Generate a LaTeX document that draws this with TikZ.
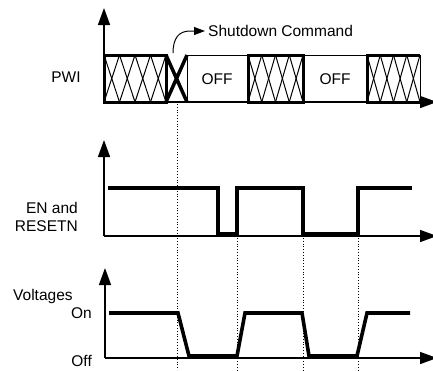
\documentclass[tikz,border=0pt]{standalone}
\usepackage{fontspec}
\setmainfont{Liberation Sans}
\usetikzlibrary{arrows.meta,positioning}
\tikzset{
    axisline/.style={
        line width=1.5pt,
        black,
        -{Triangle[length=17pt, width=12pt]}
    },
    % thick signal traces
    signalline/.style={
        line width=3.6pt,
        black,
        line join=miter
    },
    guideline/.style={
        line width=0.8pt,
        black,
        dotted
    },
    hatchbox/.style={
        line width=3pt,
        black
    },
    cmdarrow/.style={
        line width=1pt,
        black,
        -{Triangle[length=11pt, width=8pt]}
    },
    lbl/.style={
        font=\fontsize{15.5}{18.5}\selectfont,
        inner sep=0pt
    }
}
% hatched block: left x, right x, number of crosses
\newcommand{\hatchcells}[3]{%
    \pgfmathsetmacro{\cellw}{(#2-#1)/#3}
    \foreach \k in {1,...,#3}{
        \draw[line width=1pt] ({#1+(\k-1)*\cellw},55) -- ({#1+\k*\cellw},102);
        \draw[line width=1pt] ({#1+\k*\cellw},55) -- ({#1+(\k-1)*\cellw},102);
    }
}

\begin{document}
\begin{tikzpicture}[x=1pt,y=-1pt]
\useasboundingbox (0,0) rectangle (433,370);

% ===================== PWI =====================
\path
    (104,102) coordinate (o1)
    (104,8) coordinate (y1)
    (437,102) coordinate (x1)
    ;
\draw[axisline] (o1) -- (y1);
\draw[axisline] (o1) -- (x1);

\draw[line width=1pt] (187,55) -- (248,55) (303,55) -- (367,55);
\draw[line width=1pt] (187,55) -- (187,102);

\hatchcells{104}{166}{4}
\hatchcells{248}{303}{4}
\hatchcells{367}{420}{4}
\draw[hatchbox] (104,55) rectangle (166,102);
\draw[hatchbox] (248,55) rectangle (303,102);
\draw[hatchbox] (420,55) -- (367,55) -- (367,102) -- (420,102);
\draw[line width=1pt] (420,55) -- (420,102);

% shutdown cross
\draw[line width=3.5pt] (166,55) -- (187,102) (187,55) -- (166,102);

\node[lbl] (pwi) at (66,77) {PWI};
\node[lbl] (off1) at (217,79) {OFF};
\node[lbl] (off2) at (335,79) {OFF};
\node[lbl, anchor=west, inner xsep=3pt] (cmd) at (205,31) {Shutdown Command};
\coordinate (cmdfoot) at (173,53);
\draw[cmdarrow] (cmdfoot) .. controls (173,38) and (179,31) .. (190,31) -- (cmd.west);

% ===================== EN / RESETN =====================
\path
    (104,236) coordinate (o2)
    (104,140) coordinate (y2)
    (437,236) coordinate (x2)
    ;
\draw[axisline] (o2) -- (y2);
\draw[axisline] (o2) -- (x2);
\draw[signalline] (108,188) -- (218,188) -- (218,234) -- (237,234) -- (237,188)
    -- (303,188) -- (303,234) -- (358,234) -- (358,188) -- (412,188);
\node[lbl, align=right, anchor=east] (en) at (78,217) {EN and\\RESETN};

% ===================== Voltages =====================
\path
    (105,358) coordinate (o3)
    (105,268) coordinate (y3)
    (437,358) coordinate (x3)
    ;
\draw[axisline] (o3) -- (y3);
\draw[axisline] (o3) -- (x3);
\draw[signalline] (109,313) -- (178,313) -- (189,356) -- (237,356) -- (245,313)
    -- (302,313) -- (309,356) -- (357,356) -- (367,313) -- (410,313);
\node[lbl, anchor=west] (volt) at (13,296) {Voltages};
\node[lbl, anchor=east] (on) at (92,313.5) {On};
\node[lbl, anchor=east] (off) at (92,360.5) {Off};

% dotted guides
\draw[guideline] (177,104) -- (177,370);
\draw[guideline] (237,238) -- (237,370);
\draw[guideline] (303,238) -- (303,370);
\draw[guideline] (358,238) -- (358,370);

\end{tikzpicture}
\end{document}
